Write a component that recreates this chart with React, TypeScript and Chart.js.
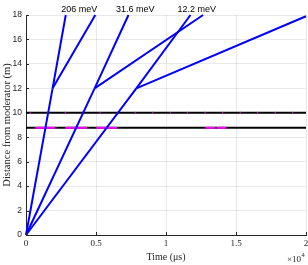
import React, { useEffect, useRef } from 'react';
import { Chart, registerables } from 'chart.js';

Chart.register(...registerables);

// ---- axis ticks ----
const X_TICKS = [0, 5000, 10000, 15000, 20000];
const X_TICK_LABELS = ['0', '0.5', '1', '1.5', '2'];
const Y_TICKS = [0, 2, 4, 6, 8, 10, 12, 14, 16, 18];

// ---- energy labels ----
const energyLabels = ['206 meV', '31.6 meV', '12.2 meV'];
const energyLabelTimes = [3800, 7800, 12200];

// ---- neutron paths (time in μs, distance in m) ----
const sampleDistance = 12;
const incidentTimes = [1900, 4900, 7880];
const elasticTimes = [2840, 7320, 11750];
const elasticDistances = [18, 18, 18];
const inelasticTimes = [4950, 12650, 20000];
const inelasticDistances = [18, 18, 17.9];

// ---- choppers ----
const chopperDistances = [10, 8.77];
const chopperOpenStart = [660, 2810, 5020, 12810, 13640];
const chopperOpenEnd = [2090, 4360, 6500, 13520, 14310];
const chopperOpenDistance = 8.77;
const pulseTickTimes = [300, 1550, 2800, 4050, 5300, 6550, 7800, 9050, 10300, 11550, 12800, 14050, 15300, 16550, 17800, 19050];
const pulseTickDistance = 10;

const TMAX = 20000;

function seg(x1: number, y1: number, x2: number, y2: number, color: string, order: number, width = 2) {
  return {
    data: [{ x: x1, y: y1 }, { x: x2, y: y2 }],
    showLine: true,
    borderColor: color,
    backgroundColor: color,
    borderWidth: width,
    pointRadius: 0,
    pointHoverRadius: 0,
    order,
    borderCapStyle: 'butt',
    clip: false,
  };
}

const overlay = {
  id: 'overlay',
  afterDraw(chart: any) {
    const ctx = chart.ctx;
    const xs = chart.scales.x;
    const ys = chart.scales.y;
    const { left, bottom, top } = chart.chartArea;
    ctx.save();
    // inward tick marks
    ctx.strokeStyle = '#262626';
    ctx.lineWidth = 1;
    ctx.beginPath();
    Y_TICKS.forEach((v) => {
      const py = Math.round(ys.getPixelForValue(v)) + 0.5;
      ctx.moveTo(left, py);
      ctx.lineTo(left + 3, py);
    });
    X_TICKS.forEach((v) => {
      const px = Math.round(xs.getPixelForValue(v)) + 0.5;
      ctx.moveTo(px, bottom);
      ctx.lineTo(px, bottom - 3);
    });
    ctx.stroke();

    // energy labels
    ctx.fillStyle = '#000';
    ctx.font = '9px "Liberation Sans", Arial, sans-serif';
    ctx.textAlign = 'center';
    ctx.textBaseline = 'middle';
    energyLabels.forEach((t, i) => {
      ctx.fillText(t, xs.getPixelForValue(energyLabelTimes[i]), top - 5);
    });

    // x10^4 multiplier
    ctx.fillStyle = '#262626';
    ctx.textAlign = 'right';
    ctx.textBaseline = 'alphabetic';
    ctx.font = '9px "Liberation Serif", "Times New Roman", serif';
    const xr = xs.getPixelForValue(TMAX);
    ctx.fillText('\u00d710', xr - 5, 262);
    ctx.font = '6.5px "Liberation Serif", "Times New Roman", serif';
    ctx.textAlign = 'left';
    ctx.fillText('4', xr - 4.5, 257);
    ctx.restore();
  },
};

export default function App() {
  const ref = useRef<HTMLCanvasElement>(null);
  useEffect(() => {
    document.body.style.margin = '0';
    const datasets: any[] = [];
    // blue neutron paths (top)
    incidentTimes.forEach((t, i) => {
      datasets.push(seg(0, 0, t, sampleDistance, '#0000ff', 0));
      datasets.push(seg(t, sampleDistance, elasticTimes[i], elasticDistances[i], '#0000ff', 0));
      datasets.push(seg(t, sampleDistance, inelasticTimes[i], inelasticDistances[i], '#0000ff', 0));
    });
    // magenta chopper openings
    chopperOpenStart.forEach((s, i) => {
      datasets.push(seg(s, chopperOpenDistance, chopperOpenEnd[i], chopperOpenDistance, '#ff00ff', 1));
    });
    pulseTickTimes.forEach((t) => {
      datasets.push(seg(t - 35, pulseTickDistance, t + 35, pulseTickDistance, '#ff00ff', 1));
    });
    // black chopper lines
    chopperDistances.forEach((d) => {
      datasets.push(seg(0, d, TMAX, d, '#000000', 2));
    });

    const chart = new Chart(ref.current as HTMLCanvasElement, {
      type: 'scatter',
      data: { datasets },
      options: {
        animation: false,
        responsive: false,
        events: [],
        layout: { padding: { top: 15, right: 2, left: 0, bottom: 0 } },
        plugins: { legend: { display: false }, tooltip: { enabled: false } },
        scales: {
          x: {
            type: 'linear',
            min: 0,
            max: TMAX,
            afterBuildTicks: (s: any) => {
              s.ticks = X_TICKS.map((v) => ({ value: v }));
            },
            afterFit: (s: any) => {
              s.height = 30;
              s.paddingLeft = 0;
              s.paddingRight = 0;
              s.paddingTop = 0;
              s.paddingBottom = 0;
            },
            ticks: {
              padding: 3,
              maxRotation: 0,
              color: '#262626',
              font: { family: '"Liberation Serif", "Times New Roman", serif', size: 9 },
              callback: (v: any) => {
                const i = X_TICKS.indexOf(Number(v));
                return i >= 0 ? X_TICK_LABELS[i] : '';
              },
            },
            grid: { color: 'rgba(38,38,38,0.1)', lineWidth: 1, drawTicks: false },
            border: { display: true, color: '#262626', width: 1 },
            title: {
              display: true,
              text: 'Time (\u03bcs)',
              color: '#262626',
              font: { family: '"Liberation Serif", "Times New Roman", serif', size: 10 },
              padding: { top: 0, bottom: 2 },
            },
          },
          y: {
            type: 'linear',
            min: 0,
            max: 18,
            afterBuildTicks: (s: any) => {
              s.ticks = Y_TICKS.map((v) => ({ value: v }));
            },
            afterFit: (s: any) => {
              s.width = 26;
              s.paddingLeft = 0;
              s.paddingRight = 0;
              s.paddingTop = 0;
              s.paddingBottom = 0;
            },
            ticks: {
              padding: 4,
              color: '#262626',
              font: { family: '"Liberation Sans", Arial, sans-serif', size: 8.5 },
            },
            grid: { color: 'rgba(38,38,38,0.1)', lineWidth: 1, drawTicks: false },
            border: { display: true, color: '#262626', width: 1 },
            title: {
              display: true,
              text: 'Distance from moderator (m)',
              color: '#262626',
              font: { family: '"Liberation Serif", "Times New Roman", serif', size: 10.5 },
              padding: { top: 1, bottom: 0 },
            },
          },
        },
      },
      plugins: [overlay],
    } as any);
    return () => chart.destroy();
  }, []);
  return <canvas ref={ref} width={308} height={265} style={{ display: 'block' }} />;
}
